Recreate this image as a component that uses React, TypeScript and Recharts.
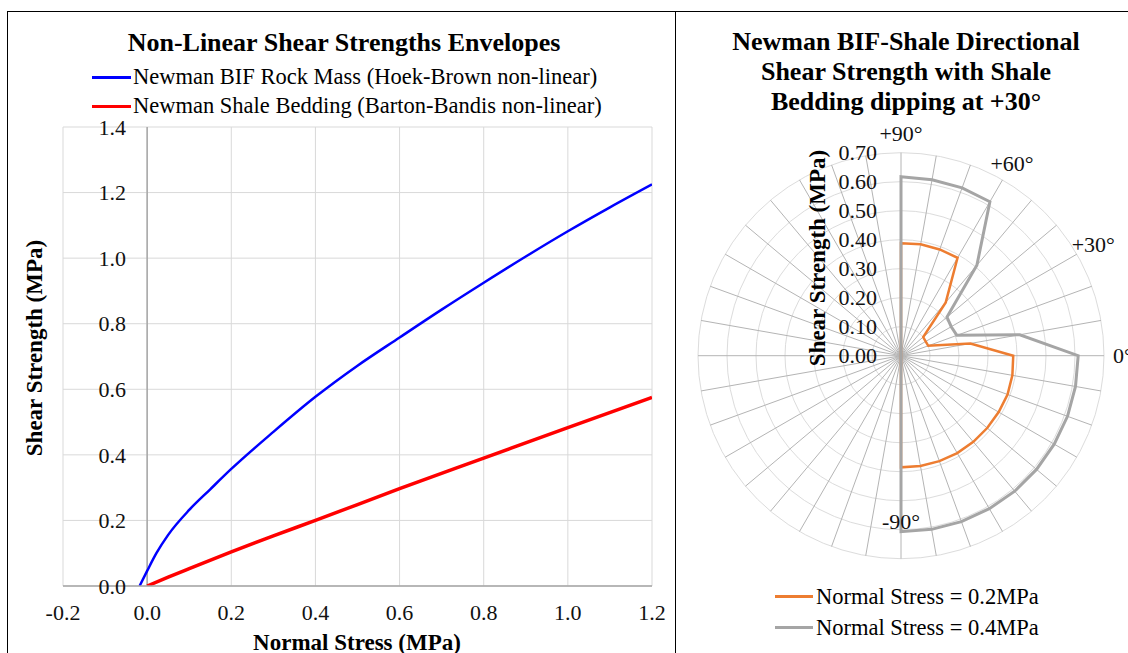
import React from "react";
import {
  LineChart,
  Line,
  XAxis,
  YAxis,
  CartesianGrid,
  ReferenceLine,
  RadarChart,
  Radar,
  PolarGrid,
  PolarAngleAxis,
  PolarRadiusAxis,
} from "recharts";

const FONT = '"Liberation Serif", "Times New Roman", serif';

// ---------- Left chart: shear strength envelopes ----------
const hbNormal = [-0.018, 0, 0.022, 0.05, 0.1, 0.15, 0.2, 0.3, 0.4, 0.5, 0.6, 0.7, 0.8, 0.9, 1.0, 1.1, 1.2];
const hbShear = [0, 0.046, 0.1, 0.156, 0.232, 0.295, 0.357, 0.47, 0.577, 0.672, 0.758, 0.843, 0.925, 1.005, 1.082, 1.155, 1.225];
const bbNormal = [0, 0.05, 0.1, 0.2, 0.3, 0.4, 0.6, 0.8, 1.0, 1.2];
const bbShear = [0, 0.027, 0.053, 0.104, 0.153, 0.2, 0.297, 0.39, 0.483, 0.575];
const xTicks = [-0.2, 0, 0.2, 0.4, 0.6, 0.8, 1.0, 1.2];
const yTicks = [0, 0.2, 0.4, 0.6, 0.8, 1.0, 1.2, 1.4];
const leftSeriesNames = [
  "Newman BIF Rock Mass (Hoek-Brown non-linear)",
  "Newman Shale Bedding (Barton-Bandis non-linear)",
];

// ---------- Right chart: directional shear strength ----------
const directions = [
  "+90°", "+80°", "+70°", "+60°", "+50°", "+40°", "+30°", "+20°", "+10°", "0°",
  "-10°", "-20°", "-30°", "-40°", "-50°", "-60°", "-70°", "-80°", "-90°",
  "-100°", "-110°", "-120°", "-130°", "-140°", "-150°", "-160°", "-170°",
  "-180°", "-190°", "-200°", "-210°", "-220°", "-230°", "-240°", "-250°", "-260°",
];
const stress02 = [0.388, 0.39, 0.39, 0.39, 0.24, 0.1, 0.098, 0.1, 0.243, 0.387, 0.39, 0.391, 0.389, 0.388, 0.388, 0.388, 0.387, 0.386, 0.385];
const stress04 = [0.617, 0.616, 0.616, 0.613, 0.407, 0.207, 0.2, 0.205, 0.416, 0.611, 0.611, 0.611, 0.61, 0.61, 0.61, 0.609, 0.609, 0.608, 0.607];
const shownDirections = ["+90°", "+60°", "+30°", "0°", "-90°"];
const radiusTicks = [0, 0.1, 0.2, 0.3, 0.4, 0.5, 0.6, 0.7];
const rightSeriesNames = ["Normal Stress = 0.2MPa", "Normal Stress = 0.4MPa"];

const hbData = hbNormal.map((x, i) => ({ x, y: hbShear[i] }));
const bbData = bbNormal.map((x, i) => ({ x, y: bbShear[i] }));
const radarData = directions.map((d, i) => ({
  dir: d,
  s02: i < stress02.length ? stress02[i] : null,
  s04: i < stress04.length ? stress04[i] : null,
}));

const RADAR_CX = 221;
const RADAR_CY = 355.7;

const YTick = (props: any) => {
  const { y, payload } = props;
  return (
    <text x={126} y={y} dy="0.35em" textAnchor="end" fontSize={22} fill="#111" fontFamily={FONT}>
      {Number(payload.value).toFixed(1)}
    </text>
  );
};

const XTick = (props: any) => {
  const { x, payload } = props;
  return (
    <text x={x} y={612} dy="0.35em" textAnchor="middle" fontSize={22} fill="#111" fontFamily={FONT}>
      {Number(payload.value).toFixed(1)}
    </text>
  );
};

const RadiusTick = (props: any) => {
  const { x, y, payload } = props;
  return (
    <text x={x - 24} y={y} dy="0.35em" textAnchor="end" fontSize={22} fill="#111" fontFamily={FONT}>
      {Number(payload.value).toFixed(2)}
    </text>
  );
};

const AngleTick = (props: any) => {
  const { x, y, payload } = props;
  const label = payload.value;
  if (!shownDirections.includes(label)) return null;
  const dx = x - RADAR_CX;
  const dy = y - RADAR_CY;
  const len = Math.hypot(dx, dy) || 1;
  const r = label === "-90°" ? 166 : 222;
  return (
    <text
      x={RADAR_CX + (dx / len) * r}
      y={RADAR_CY + (dy / len) * r}
      dy="0.35em"
      textAnchor="middle"
      fontSize={22}
      fill="#111"
      fontFamily={FONT}
    >
      {label}
    </text>
  );
};

const textStyle = (extra: React.CSSProperties): React.CSSProperties => ({
  position: "absolute",
  fontFamily: FONT,
  color: "#000",
  whiteSpace: "nowrap",
  ...extra,
});

export default function App() {
  return (
    <div
      style={{
        position: "absolute",
        left: 0,
        top: 0,
        width: 1128,
        height: 653,
        background: "#fff",
        overflow: "hidden",
      }}
    >
      {/* table borders */}
      <div style={{ position: "absolute", left: 7, top: 11, width: 1121, height: 1, background: "#000" }} />
      <div style={{ position: "absolute", left: 7, top: 11, width: 1, height: 642, background: "#000" }} />
      <div style={{ position: "absolute", left: 675, top: 11, width: 1, height: 642, background: "#000" }} />

      {/* Left chart */}
      <div style={{ position: "absolute", left: 0, top: 0 }}>
        <LineChart width={674} height={653} margin={{ top: 127, right: 22, bottom: 37, left: 23 }}>
          <CartesianGrid stroke="#d9d9d9" strokeWidth={1} />
          <XAxis
            dataKey="x"
            type="number"
            domain={[-0.2, 1.2]}
            ticks={xTicks}
            height={30}
            tick={XTick}
            tickLine={false}
            axisLine={{ stroke: "#a6a6a6", strokeWidth: 1.5 }}
            allowDataOverflow
          />
          <YAxis
            type="number"
            domain={[0, 1.4]}
            ticks={yTicks}
            width={40}
            tick={YTick}
            tickLine={false}
            axisLine={false}
            allowDataOverflow
          />
          <ReferenceLine x={0} stroke="#a6a6a6" strokeWidth={1.5} />
          <Line
            data={hbData}
            dataKey="y"
            type="monotone"
            stroke="#0000ff"
            strokeWidth={2.5}
            dot={false}
            isAnimationActive={false}
          />
          <Line
            data={bbData}
            dataKey="y"
            type="monotone"
            stroke="#ff0000"
            strokeWidth={3.5}
            dot={false}
            isAnimationActive={false}
          />
        </LineChart>
      </div>

      <div style={textStyle({ left: 0, width: 688, top: 28, lineHeight: "30px", fontSize: 26, fontWeight: "bold", textAlign: "center" })}>
        Non-Linear Shear Strengths Envelopes
      </div>
      {leftSeriesNames.map((name, i) => (
        <React.Fragment key={name}>
          <div
            style={{
              position: "absolute",
              left: 92,
              top: (i === 0 ? 77 : 106) - 1.5,
              width: 39,
              height: 3,
              background: i === 0 ? "#0000ff" : "#ff0000",
            }}
          />
          <div style={textStyle({ left: 133, top: (i === 0 ? 77 : 106) - 15, lineHeight: "30px", fontSize: 22.5 })}>
            {name}
          </div>
        </React.Fragment>
      ))}
      <div
        style={textStyle({
          left: 35,
          top: 348,
          lineHeight: "30px",
          fontSize: 23,
          fontWeight: "bold",
          transform: "translate(-50%, -50%) rotate(-90deg)",
        })}
      >
        Shear Strength (MPa)
      </div>
      <div style={textStyle({ left: 357, top: 643, lineHeight: "30px", fontSize: 23, fontWeight: "bold", transform: "translate(-50%, -50%)" })}>
        Normal Stress (MPa)
      </div>

      {/* Right chart */}
      <div style={{ position: "absolute", left: 680, top: 0 }}>
        <RadarChart
          width={448}
          height={653}
          data={radarData}
          cx={RADAR_CX}
          cy={RADAR_CY}
          outerRadius={203}
          startAngle={90}
          endAngle={-270}
          margin={{ top: 0, right: 0, bottom: 0, left: 0 }}
        >
          <PolarGrid gridType="circle" radialLines={false} stroke="#dcdcdc" strokeWidth={1} />
          <PolarGrid gridType="circle" polarRadius={[]} stroke="#b4b4b4" strokeWidth={1} />
          <PolarAngleAxis dataKey="dir" tick={AngleTick} tickLine={false} axisLine={false} />
          <PolarRadiusAxis
            angle={90}
            orientation="left"
            type="number"
            domain={[0, 0.7]}
            allowDecimals
            allowDataOverflow
            tickCount={8}
            ticks={radiusTicks}
            tick={RadiusTick}
            axisLine={false}
            tickLine={false}
          />
          <Radar
            dataKey="s02"
            stroke="#ed7d31"
            strokeWidth={2.5}
            fill="none"
            fillOpacity={0}
            dot={false}
            isAnimationActive={false}
          />
          <Radar
            dataKey="s04"
            stroke="#a5a5a5"
            strokeWidth={3}
            fill="none"
            fillOpacity={0}
            dot={false}
            isAnimationActive={false}
          />
        </RadarChart>
      </div>

      {["Newman BIF-Shale Directional", "Shear Strength with Shale", "Bedding dipping at +30°"].map((line, i) => (
        <div
          key={line}
          style={textStyle({
            left: 906,
            top: 41.7 + i * 30,
            lineHeight: "30px",
            fontSize: 26,
            fontWeight: "bold",
            transform: "translate(-50%, -50%)",
          })}
        >
          {line}
        </div>
      ))}
      <div
        style={textStyle({
          left: 817.5,
          top: 257.5,
          lineHeight: "30px",
          fontSize: 23,
          fontWeight: "bold",
          transform: "translate(-50%, -50%) rotate(-90deg)",
        })}
      >
        Shear Strength (MPa)
      </div>
      {rightSeriesNames.map((name, i) => (
        <React.Fragment key={name}>
          <div
            style={{
              position: "absolute",
              left: 775,
              top: (i === 0 ? 596.7 : 627.7) - 1.5,
              width: 38,
              height: 3,
              background: i === 0 ? "#ed7d31" : "#a5a5a5",
            }}
          />
          <div style={textStyle({ left: 816, top: (i === 0 ? 596.7 : 627.7) - 15, lineHeight: "30px", fontSize: 22.5 })}>
            {name}
          </div>
        </React.Fragment>
      ))}
    </div>
  );
}
